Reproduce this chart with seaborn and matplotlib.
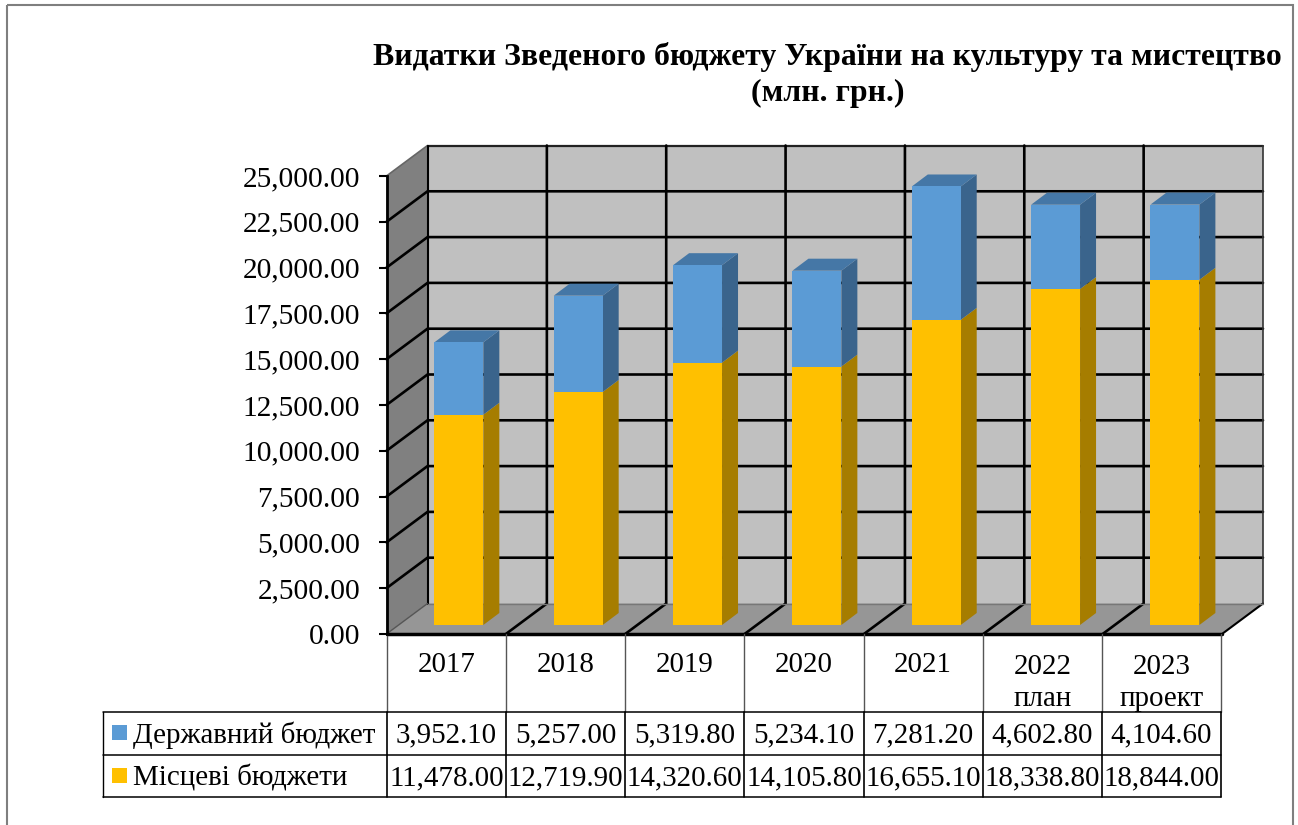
import matplotlib
matplotlib.use("Agg")
import matplotlib.pyplot as plt
from matplotlib.patches import Polygon, Rectangle
import seaborn as sns

years = ["2017", "2018", "2019", "2020", "2021", "2022", "2023"]
year_notes = ["", "", "", "", "", "план", "проект"]
state_name = "Державний бюджет"
local_name = "Місцеві бюджети"
state = [3952.10, 5257.00, 5319.80, 5234.10, 7281.20, 4602.80, 4104.60]
local = [11478.00, 12719.90, 14320.60, 14105.80, 16655.10, 18338.80, 18844.00]
y_ticks = [0, 2500, 5000, 7500, 10000, 12500, 15000, 17500, 20000, 22500, 25000]
title_lines = ["Видатки Зведеного бюджету України на культуру та мистецтво", "(млн. грн.)"]

BLUE, BLUE_TOP, BLUE_SIDE = "#5B9BD5", "#4577A6", "#3A648C"
GOLD, GOLD_SIDE = "#FFC000", "#A67D00"
WALL, SIDE_WALL, FLOOR = "#C0C0C0", "#808080", "#969696"

W, H = 1298, 825
sns.set_theme(style="white")
plt.rcParams["font.family"] = ["Liberation Serif", "DejaVu Serif"]
fig = plt.figure(figsize=(W / 100, H / 100), dpi=100, facecolor="white")


def rect(x0, y_top, x1, y_bottom):
    return [x0 / W, 1 - y_bottom / H, (x1 - x0) / W, (y_bottom - y_top) / H]


# Pixel-space layer for the chart frame, walls, floor and table
bg = fig.add_axes([0, 0, 1, 1], zorder=0)
bg.set_xlim(0, W)
bg.set_ylim(H, 0)
bg.axis("off")

fx0, fx1, fy0, fy1 = 386.5, 1222, 634, 176   # front plane
DX, DY = 41, 30.5                            # wall depth in pixels
col_w = (fx1 - fx0) / 7

bg.add_patch(Rectangle((6.5, 5), 1286.5, 830, fc="none", ec="#7f7f7f", lw=1.5))

bg.add_patch(Polygon([(fx0 + DX, fy1 - DY), (fx1 + DX, fy1 - DY), (fx1 + DX, fy0 - DY), (fx0 + DX, fy0 - DY)],
                     fc=WALL, ec="none", zorder=1))
bg.add_patch(Polygon([(fx0, fy1), (fx0 + DX, fy1 - DY), (fx0 + DX, fy0 - DY), (fx0, fy0)],
                     fc=SIDE_WALL, ec="none", zorder=1))
bg.add_patch(Polygon([(fx0, fy0), (fx0 + DX, fy0 - DY), (fx1 + DX, fy0 - DY), (fx1, fy0)],
                     fc=FLOOR, ec="none", zorder=1))

px_per_val = (fy0 - fy1) / y_ticks[-1]
for v in y_ticks[1:]:
    y = fy0 - v * px_per_val
    if v == y_ticks[-1]:
        bg.plot([fx0, fx0 + DX], [y, y - DY], color="#666666", lw=1.2, zorder=2)
        bg.plot([fx0 + DX, fx1 + DX], [y - DY, y - DY], color="#222222", lw=1.6, zorder=2)
    else:
        bg.plot([fx0, fx0 + DX, fx1 + DX], [y, y - DY, y - DY], color="black", lw=1.9, zorder=2,
                solid_joinstyle="miter")
for i in range(1, 7):
    x = fx0 + i * col_w
    bg.plot([x, x + DX, x + DX], [fy0, fy0 - DY, fy1 - DY], color="black", lw=1.9, zorder=2,
            solid_joinstyle="miter")
bg.plot([fx1, fx1 + DX], [fy0, fy0 - DY], color="black", lw=1.5, zorder=2)
bg.plot([fx1 + DX, fx1 + DX], [fy0 - DY, fy1 - DY], color="#333333", lw=1.2, zorder=2)
bg.plot([fx0 + DX, fx0 + DX], [fy0 - DY, fy1 - DY], color="black", lw=1.5, zorder=2)
bg.plot([fx0, fx0 + DX], [fy0, fy0 - DY], color="#555555", lw=1, zorder=2)
bg.plot([fx0 + DX, fx1 + DX], [fy0 - DY, fy0 - DY], color="#777777", lw=1, zorder=2)
bg.plot([fx0, fx1], [fy0, fy0], color="black", lw=2.5, zorder=3)

# Table
tx0, ty0, ty1, ty2, ty3 = 102.5, 634, 712, 755, 797
tcol = [387 + i * (1221 - 387) / 7 for i in range(8)]
for x in tcol:
    bg.plot([x, x], [ty0, ty1], color="#555555", lw=1, zorder=3)
    bg.plot([x, x], [ty1, ty3], color="black", lw=1.2, zorder=3)
for y in (ty1, ty2, ty3):
    bg.plot([tx0, tcol[-1]], [y, y], color="black", lw=1.1, zorder=3)
bg.plot([tx0, tx0], [ty1, ty3], color="black", lw=1, zorder=3)

FS = 20.9
for i, (yr, note, s, l) in enumerate(zip(years, year_notes, state, local)):
    cx = (tcol[i] + tcol[i + 1]) / 2
    bg.text(cx, 665 if not note else 667, yr, ha="center", va="center", fontsize=FS, color="black")
    if note:
        bg.text(cx, 699, note, ha="center", va="center", fontsize=FS, color="black")
    bg.text(cx, 735, f"{s:,.2f}", ha="center", va="center", fontsize=FS, color="black")
    bg.text(cx, 778, f"{l:,.2f}", ha="center", va="center", fontsize=FS, color="black")

for name, color, yc in ((state_name, BLUE, 733), (local_name, GOLD, 776)):
    bg.add_patch(Rectangle((112, yc - 8), 15, 15, fc=color, ec="none", zorder=3))
    bg.text(133, yc + 2, name, ha="left", va="center", fontsize=FS, color="black")

bg.text(827.5, 57, title_lines[0], ha="center", va="center", fontsize=22.9, fontweight="bold", color="black")
bg.text(827.5, 93, title_lines[1], ha="center", va="center", fontsize=22.9, fontweight="bold", color="black")

# Value axis on the front-left edge of the box
ay = fig.add_axes(rect(fx0, fy1, fx1, fy0), zorder=1)
ay.patch.set_alpha(0)
ay.set_xlim(0, 1)
ay.set_ylim(0, y_ticks[-1])
ay.set_xticks([])
ay.set_yticks(y_ticks, [f"{v:,.2f}" for v in y_ticks], fontsize=21.2, color="black")
ay.tick_params(axis="y", left=True, length=6, width=1.5, color="black", pad=13)
for side in ("top", "right", "bottom"):
    ay.spines[side].set_visible(False)
ay.spines["left"].set_color("black")
ay.spines["left"].set_linewidth(2)

# Bars, on a plane set back inside the box
ax = fig.add_axes(rect(399.2, 625 - 458, 1234.6, 625), zorder=2)
ax.patch.set_alpha(0)
sns.barplot(x=years, y=local, color=GOLD, saturation=1, width=0.41, ax=ax, zorder=5, linewidth=0)
sns.barplot(x=years, y=state, bottom=local, color=BLUE, saturation=1, width=0.41, ax=ax, zorder=5, linewidth=0)
ax.set_xlim(-0.5, 6.5)
ax.set_ylim(0, y_ticks[-1])
ax.axis("off")

bw = 0.41
ddx = 16 / ((1234.6 - 399.2) / 7)
ddy = 12 / 458 * y_ticks[-1]
for i, (l, s) in enumerate(zip(local, state)):
    x0, x1 = i - bw / 2, i + bw / 2
    t = l + s
    ax.add_patch(Polygon([(x1, 0), (x1 + ddx, ddy), (x1 + ddx, l + ddy), (x1, l)], fc=GOLD_SIDE, ec="none", zorder=4))
    ax.add_patch(Polygon([(x1, l), (x1 + ddx, l + ddy), (x1 + ddx, t + ddy), (x1, t)], fc=BLUE_SIDE, ec="none", zorder=4))
    ax.add_patch(Polygon([(x0, t), (x1, t), (x1 + ddx, t + ddy), (x0 + ddx, t + ddy)], fc=BLUE_TOP, ec="none", zorder=4))

fig.savefig("out.png", dpi=100, facecolor="white")
